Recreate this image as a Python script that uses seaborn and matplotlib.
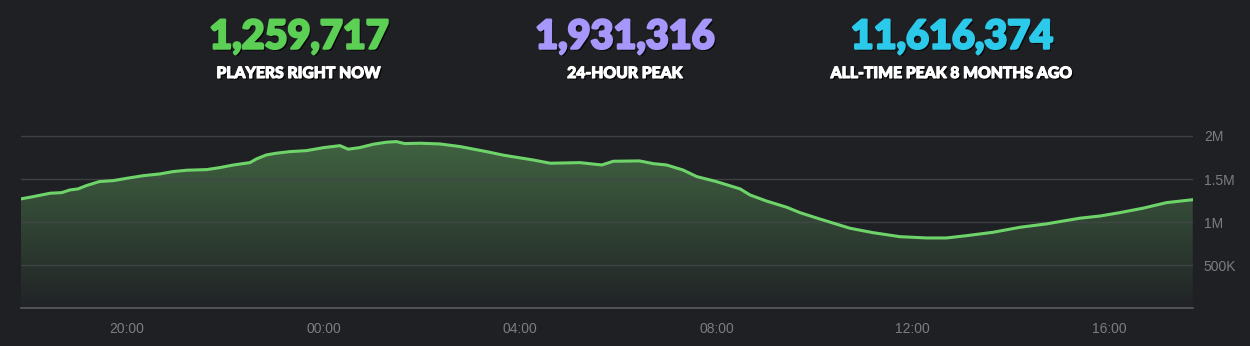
import numpy as np
import pandas as pd
import matplotlib
matplotlib.use("Agg")
import matplotlib.pyplot as plt
import matplotlib.patheffects as pe
import seaborn as sns
import matplotlib.dates as mdates

# player counts (millions), day 1 evening -> day 2 afternoon
TIMES = ["17:50", "18:05", "18:26", "18:40", "18:50", "19:00", "19:10", "19:26",
         "19:43", "20:00", "20:20", "20:40", "20:56", "21:13", "21:37", "21:53",
         "22:10", "22:30", "22:38", "22:50", "23:02", "23:19", "23:39",
         "00:00", "00:20", "00:30", "00:44", "01:01", "01:17", "01:29", "01:39",
         "01:58", "02:22", "02:47", "03:19", "03:40", "04:16", "04:37", "05:13",
         "05:40", "05:54", "06:26", "06:43", "06:59", "07:19", "07:36", "08:00",
         "08:29", "08:41", "09:01", "09:26", "09:42", "10:06", "10:43", "11:11",
         "11:44", "12:17", "12:41", "13:06", "13:38", "14:11", "14:43", "15:24",
         "15:49", "16:13", "16:41", "17:10", "17:42"]
PLAYERS_M = [1.269, 1.295, 1.335, 1.342, 1.373, 1.385, 1.423, 1.470,
             1.481, 1.509, 1.539, 1.559, 1.586, 1.602, 1.609, 1.632,
             1.663, 1.690, 1.733, 1.779, 1.799, 1.818, 1.829,
             1.864, 1.887, 1.846, 1.864, 1.904, 1.927, 1.934, 1.911,
             1.915, 1.907, 1.876, 1.818, 1.776, 1.721, 1.683, 1.690,
             1.663, 1.706, 1.710, 1.678, 1.663, 1.605, 1.528, 1.470,
             1.385, 1.315, 1.245, 1.172, 1.110, 1.037, 0.929, 0.878,
             0.831, 0.816, 0.816, 0.843, 0.882, 0.940, 0.979, 1.045,
             1.071, 1.110, 1.161, 1.226, 1.260]

STAT_VALUES = ["1,259,717", "1,931,316", "11,616,374"]
STAT_LABELS = ["PLAYERS RIGHT NOW", "24-HOUR PEAK", "ALL-TIME PEAK 8 MONTHS AGO"]
STAT_COLORS = ["#5ccf55", "#a897fb", "#2ccaea"]

Y_TICKS = [500000, 1000000, 1500000, 2000000]
Y_TICK_LABELS = ["500K", "1M", "1.5M", "2M"]
X_TICKS = ["20:00", "00:00", "04:00", "08:00", "12:00", "16:00"]

BG = "#1f2024"


def to_datetime(hhmm_list):
    """Consecutive clock times; a time earlier than the previous one rolls over a day."""
    out = []
    day = pd.Timestamp("2024-01-01")
    prev = None
    for t in hhmm_list:
        if prev is not None and t < prev:
            day += pd.Timedelta(days=1)
        out.append(pd.Timestamp(f"{day.date()} {t}"))
        prev = t
    return out


df = pd.DataFrame({"time": to_datetime(TIMES),
                   "players": np.array(PLAYERS_M) * 1e6})

sns.set_style("dark")
plt.rcParams["font.family"] = ["Lato", "DejaVu Sans"]

fig = plt.figure(figsize=(12.5, 3.46), dpi=100, facecolor=BG)
ax = fig.add_axes([0.0166, 0.109, 0.9376, 0.548], facecolor=BG)

# gradient fill under the line
x_num = mdates.date2num(df["time"])
ymax = df["players"].max()
fill = ax.fill_between(x_num, df["players"].values, 0, color="none", lw=0)
grad = np.linspace(0, 1, 256).reshape(-1, 1)
cmap = matplotlib.colors.LinearSegmentedColormap.from_list(
    "g", [(0.13, 0.135, 0.15, 1.0), (0.25, 0.39, 0.255, 1.0)])
img = ax.imshow(grad, cmap=cmap, aspect="auto", origin="lower",
                extent=[x_num[0], x_num[-1], 0, ymax], zorder=1)
img.set_clip_path(fill.get_paths()[0], transform=ax.transData)

sns.lineplot(data=df, x="time", y="players", ax=ax, color="#6ed46a",
             linewidth=2.2, zorder=3)

ax.set_xlim(df["time"].iloc[0], df["time"].iloc[-1])
ax.set_ylim(0, 2.2e6)

ax.set_axisbelow(False)
ax.set_yticks(Y_TICKS)
ax.set_yticklabels(Y_TICK_LABELS)
ax.yaxis.tick_right()
ax.tick_params(axis="y", length=0, pad=8, labelcolor="#7c7d80", labelsize=10)
ax.grid(axis="y", color="#44464a", linewidth=1, alpha=0.85)
ax.grid(axis="x", visible=False)

xt = to_datetime(X_TICKS)
ax.set_xticks(xt)
ax.set_xticklabels(X_TICKS)
ax.tick_params(axis="x", length=5, width=1, color="#5a5b5e", pad=5,
               labelcolor="#7c7d80", labelsize=10)
for lab in ax.get_xticklabels() + ax.get_yticklabels():
    lab.set_fontfamily(["Liberation Sans", "DejaVu Sans"])

for side in ["top", "left", "right"]:
    ax.spines[side].set_visible(False)
ax.spines["bottom"].set_color("#5a5b5e")
ax.spines["bottom"].set_linewidth(1.2)
ax.set_xlabel("")
ax.set_ylabel("")

# header stats
centers = [299 / 1250, 625 / 1250, 952 / 1250]
for cx, val, lab, col in zip(centers, STAT_VALUES, STAT_LABELS, STAT_COLORS):
    fx_num = [pe.SimplePatchShadow(offset=(1.5, -1.5), shadow_rgbFace="black", alpha=0.8),
              pe.Stroke(linewidth=1.8, foreground=col), pe.Normal()]
    fx_lab = [pe.SimplePatchShadow(offset=(1.2, -1.2), shadow_rgbFace="black", alpha=0.9),
              pe.Stroke(linewidth=0.8, foreground="white"), pe.Normal()]
    fig.text(cx, 1 - 37 / 346, val, color=col, fontsize=28.5, fontweight="black",
             ha="center", va="center", path_effects=fx_num)
    fig.text(cx, 1 - 73 / 346, lab, color="white", fontsize=11.3, fontweight="black",
             ha="center", va="center", path_effects=fx_lab)

fig.savefig("out.png", dpi=100, facecolor=BG)
